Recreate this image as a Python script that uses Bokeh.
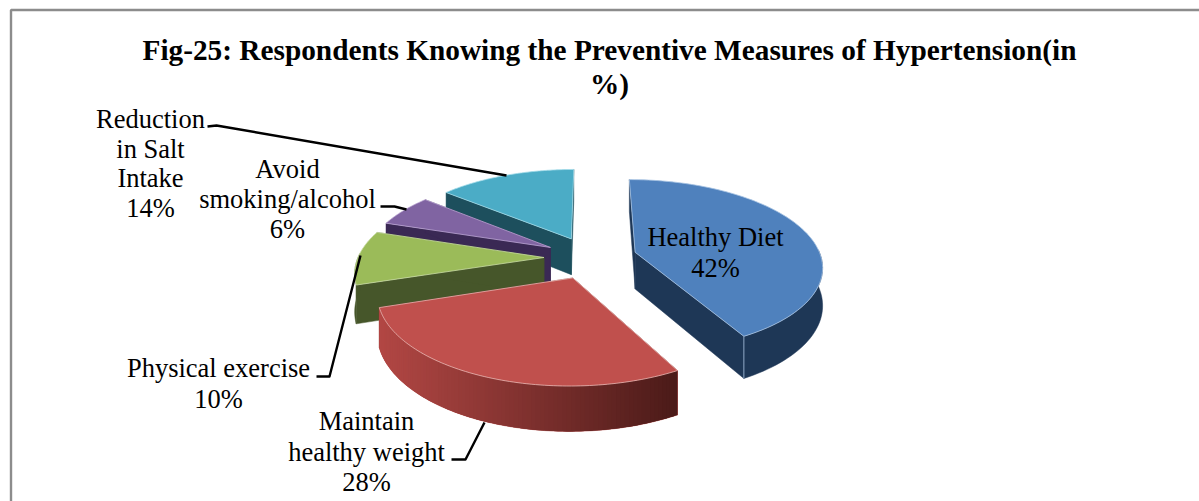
import numpy as np
from bokeh.core.properties import value
from bokeh.embed import file_html
from bokeh.models import Range1d
from bokeh.plotting import figure
from bokeh.resources import INLINE

# Survey shares, clockwise from twelve o'clock
categories = ["Healthy Diet", "Maintain healthy weight", "Physical exercise",
              "Avoid smoking/alcohol", "Reduction in Salt Intake"]
shares = [42, 28, 10, 6, 14]

title_lines = ["Fig-25: Respondents Knowing the Preventive Measures of Hypertension(in", "%)"]

top_colors = ["#4F81BD", "#C0504D", "#9BBB59", "#8064A2", "#4BACC6"]
wall_colors = ["#1E3756", "#6E2523", "#46562A", "#3A2954", "#1D4F5D"]
rim_left = ["#1E3756", "#B24744", "#46562A", "#3A2954", "#1D4F5D"]
rim_right = ["#1E3756", "#4A1A18", "#46562A", "#3A2954", "#1D4F5D"]
edge_colors = ["#A9C4E4", "#E9B5B2", "#C9DCA4", "#BBA6D4", "#A4DCEA"]

# Pie projection
CX, CY = 590.0, 257.0
RX, RY = 186.0, 85.0
PERSPECTIVE = 0.15
THICKNESS = 37.0
EXPLODE = 0.25

FONT = value("Liberation Serif")


def project(X, Y, drop=0.0):
    """World disc coordinates (Y towards the viewer) to page pixels."""
    s = 1.0 / (1.0 - PERSPECTIVE * np.asarray(Y, dtype=float))
    return CX + RX * np.asarray(X) * s, CY + RY * np.asarray(Y) * s + drop * s


p = figure(width=1199, height=501, x_range=Range1d(0, 1199), y_range=Range1d(501, 0),
           min_border=0, outline_line_color=None, toolbar_location=None,
           output_backend="svg", background_fill_color="white", border_fill_color="white")
p.axis.visible = False
p.grid.visible = False

# Frame round the chart area; it runs off the page at the right and bottom
p.line([10.5, 10.5, 1199], [501, 9.5, 9.5], line_color="#8C8C8C", line_width=2.4)

fractions = np.array(shares, dtype=float) / sum(shares)
ends = np.cumsum(fractions) * 2 * np.pi
starts = ends - fractions * 2 * np.pi

slices = []
for i in range(len(shares)):
    mid = (starts[i] + ends[i]) / 2
    ox, oy = EXPLODE * np.sin(mid), -EXPLODE * np.cos(mid)
    t = np.linspace(starts[i], ends[i], 90)
    slices.append((i, ox, oy, t))

# Slices are painted back to front so nearer ones overlap the farther ones
for i, ox, oy, t in [slices[k] for k in (4, 3, 2, 0, 1)]:
    rim_X, rim_Y = ox + np.sin(t), oy - np.cos(t)
    ax, ay = project(ox, oy)
    ax2, ay2 = project(ox, oy, THICKNESS)
    x_top, y_top = project(rim_X, rim_Y)
    x_low, y_low = project(rim_X, rim_Y, THICKNESS)

    # Cut faces
    for j in (0, -1):
        p.patch([ax, x_top[j], x_low[j], ax2], [ay, y_top[j], y_low[j], ay2],
                fill_color=wall_colors[i], line_color=wall_colors[i], line_width=0.5)

    # Outer rim: one solid band, then overlapping steps where it is shaded
    front = np.where(np.cos(t) < 0.05)[0]
    if len(front) > 1:
        p.patch(np.r_[x_top[front], x_low[front][::-1]], np.r_[y_top[front], y_low[front][::-1]],
                fill_color=rim_left[i], line_color=rim_left[i], line_width=0.5)
        if rim_left[i] != rim_right[i]:
            left = np.array([int(rim_left[i][c:c + 2], 16) for c in (1, 3, 5)], dtype=float)
            right = np.array([int(rim_right[i][c:c + 2], 16) for c in (1, 3, 5)], dtype=float)
            xmin, xmax = x_top[front].min(), x_top[front].max()
            for a in range(0, len(front) - 1):
                seg = front[a:a + 3]
                f = (x_top[seg].mean() - xmin) / (xmax - xmin)
                rgb = left + (right - left) * f
                col = "#%02x%02x%02x" % tuple(int(round(v)) for v in rgb)
                p.patch(np.r_[x_top[seg], x_low[seg][::-1]], np.r_[y_top[seg], y_low[seg][::-1]],
                        fill_color=col, line_color=None)

    # Top surface with its thin light outline
    p.patch(np.r_[ax, x_top], np.r_[ay, y_top], fill_color=top_colors[i],
            line_color=edge_colors[i], line_width=1.0, line_alpha=0.8)

    # Highlight down the front corner of the largest slice
    if shares[i] == max(shares):
        p.line([x_top[-1], x_low[-1]], [y_top[-1], y_low[-1]], line_color=edge_colors[i],
               line_width=1.0, line_alpha=0.8)

# Leader lines from the outside labels to their slices
leader_xs = [[207, 216, 506], [380, 394, 406], [316, 329, 360], [451, 465, 484]]
leader_ys = [[126, 125, 175], [206, 206, 209], [376, 376, 255], [459, 459, 422]]
p.multi_line(leader_xs, leader_ys, line_color="#000000", line_width=2.4,
             line_join="round")

# Title
p.text([609, 609], [49, 83], text=title_lines, text_font=FONT, text_font_style="bold",
       text_font_size="29.3px", text_align="center", text_baseline="middle", text_color="#000000")

# Data labels, one entry per text row
label_rows = [
    (715, 236, "Healthy Diet"), (715, 267, f"{shares[0]}%"),
    (366, 420, "Maintain"), (366, 451, "healthy weight"), (366, 481, f"{shares[1]}%"),
    (218, 367, "Physical exercise"), (218, 398, f"{shares[2]}%"),
    (287, 168, "Avoid"), (287, 198, "smoking/alcohol"), (287, 228, f"{shares[3]}%"),
    (150, 118, "Reduction"), (150, 148, "in Salt"), (150, 177, "Intake"), (150, 207, f"{shares[4]}%"),
]
p.text([r[0] for r in label_rows], [r[1] for r in label_rows], text=[r[2] for r in label_rows],
       text_font=FONT, text_font_size="26.5px", text_align="center", text_baseline="middle",
       text_color="#000000")

open("out.html", "w").write(file_html(p, INLINE))
